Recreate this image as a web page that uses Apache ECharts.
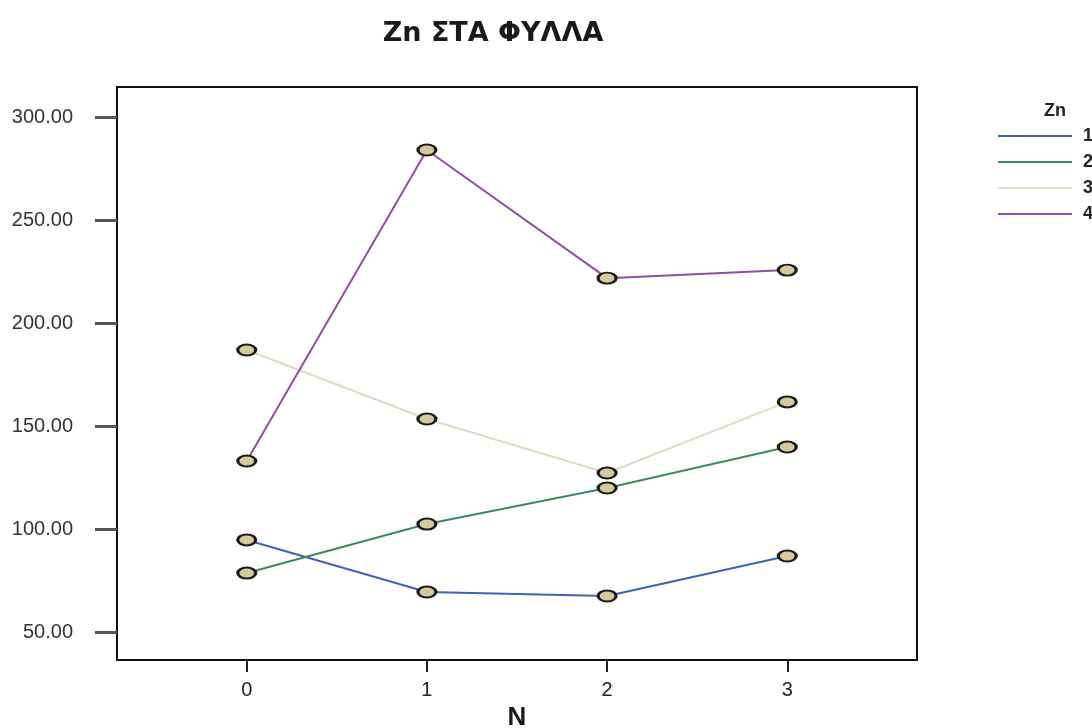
<!DOCTYPE html>
<html><head><meta charset="utf-8">
<script src="https://cdn.jsdelivr.net/npm/echarts@6/dist/echarts.min.js"></script>
<style>html,body{margin:0;padding:0;background:#fff}#c{width:1092px;height:728px}</style>
</head><body><div id="c"></div>
<script>
var categories = [0, 1, 2, 3];
var seriesNames = ['1', '2', '3', '4'];
var zn1 = [94.7, 69.4, 67.5, 86.9];
var zn2 = [78.6, 102.4, 119.9, 139.8];
var zn3 = [186.9, 153.4, 127.2, 161.7];
var zn4 = [133.0, 284.0, 221.8, 225.7];
var yTicks = [50, 100, 150, 200, 250, 300];
var colors = ['#3a64b8', '#3f8a5c', '#e2dac4', '#8e4f9e'];
var values = [zn1, zn2, zn3, zn4];

var font = '"Liberation Sans", Arial, sans-serif';
var chart = echarts.init(document.getElementById('c'));
var series = values.map(function (v, i) {
  return {
    name: seriesNames[i],
    type: 'line',
    data: categories.map(function (c, j) { return [c, v[j]]; }),
    symbol: 'circle',
    symbolSize: [18, 11],
    lineStyle: { color: colors[i], width: 2 },
    itemStyle: { color: '#d8c89e', borderColor: '#1a1a1a', borderWidth: 2.5 },
    z: 2 + i
  };
});
chart.setOption({
  backgroundColor: '#ffffff',
  animation: false,
  title: {
    text: 'Zn ΣΤΑ ΦΥΛΛΑ', left: 488, top: 15, textAlign: 'center',
    textStyle: { fontFamily: '"DejaVu Sans", sans-serif', fontWeight: 'bold', fontSize: 27, color: '#1a1a1a' }
  },
  legend: {
    orient: 'vertical', left: 993, top: 122, itemWidth: 74, itemHeight: 2, itemGap: 8,
    icon: 'rect',
    data: seriesNames.map(function (n, i) { return { name: n, itemStyle: { color: colors[i], borderWidth: 0 } }; }),
    textStyle: { fontFamily: font, fontSize: 18, fontWeight: 'bold', color: '#222', padding: [0, 0, 0, 6] }
  },
  graphic: [{
    type: 'text', left: 1044, top: 102,
    style: { text: 'Zn', font: 'bold 18px "Liberation Sans", Arial, sans-serif', fill: '#222' }
  }],
  grid: { left: 117, right: 175, top: 87, bottom: 68, outerBoundsMode: 'none', containLabel: false,
    show: true, borderColor: '#111', borderWidth: 2, backgroundColor: 'transparent' },
  xAxis: {
    type: 'value', min: -0.72, max: 3.72,
    name: 'N', nameLocation: 'middle', nameGap: 42,
    nameTextStyle: { fontFamily: font, fontSize: 26, fontWeight: 'bold', color: '#1a1a1a' },
    axisLine: { show: true, onZero: false, lineStyle: { color: '#111', width: 2 } },
    axisTick: { show: true, customValues: categories, length: 12, lineStyle: { color: '#222', width: 2 } },
    axisLabel: { customValues: categories, margin: 20, fontFamily: font, fontSize: 20, color: '#222' },
    splitLine: { show: false }
  },
  yAxis: {
    type: 'value', min: 36.4, max: 314.6,
    axisLine: { show: true, onZero: false, lineStyle: { color: '#111', width: 2 } },
    axisTick: { show: true, customValues: yTicks, length: 22, lineStyle: { color: '#555', width: 3 } },
    axisLabel: { customValues: yTicks, margin: 44, fontFamily: font, fontSize: 20, color: '#333',
      formatter: function (v) { return v.toFixed(2); } },
    splitLine: { show: false }
  },
  series: series
});
</script></body></html>
